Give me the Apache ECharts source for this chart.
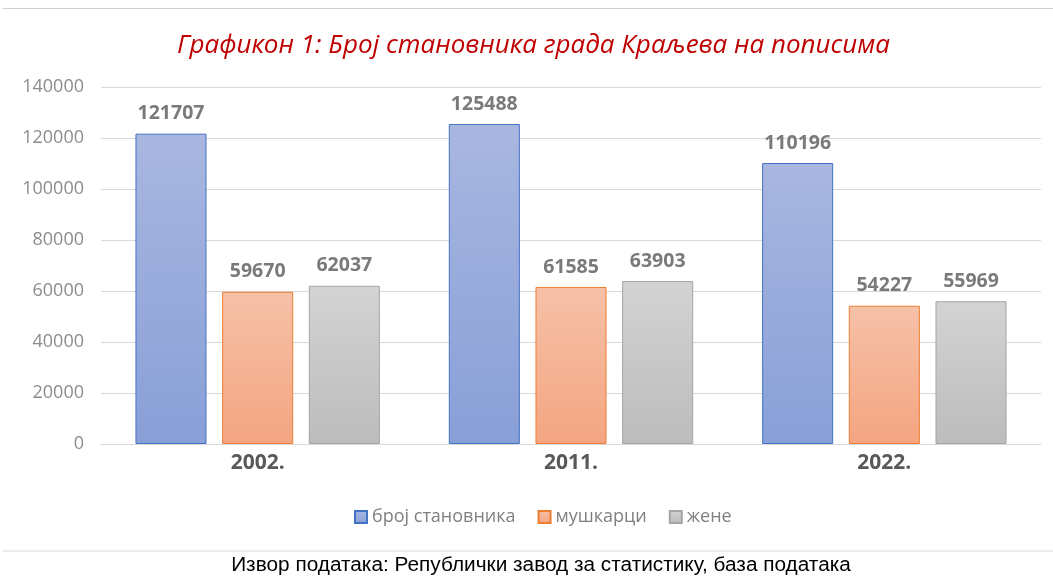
<!DOCTYPE html>
<html>
<head>
<meta charset="utf-8">
<script src="https://cdn.jsdelivr.net/npm/echarts@6/dist/echarts.min.js"></script>
<style>
  html, body { margin: 0; padding: 0; background: #fff; }
  #chart { width: 1053px; height: 578px; }
</style>
</head>
<body>
<div id="chart"></div>
<script>
const years = ['2002.', '2011.', '2022.'];
const seriesNames = ['број становника', 'мушкарци', 'жене'];
const total = [121707, 125488, 110196];
const men = [59670, 61585, 54227];
const women = [62037, 63903, 55969];
const yTicks = [0, 20000, 40000, 60000, 80000, 100000, 120000, 140000];

const grad = (top, bottom) => new echarts.graphic.LinearGradient(0, 0, 0, 1, [
  { offset: 0, color: top },
  { offset: 1, color: bottom }
]);

const label = {
  show: true,
  position: 'top',
  distance: 10,
  color: '#7a7a7a',
  fontSize: 19.5,
  fontWeight: 'bold',
  fontFamily: 'Open Sans'
};

const chart = echarts.init(document.getElementById('chart'));

chart.setOption({
  backgroundColor: '#fff',
  animation: false,
  title: {
    text: 'Графикон 1: Број становника града Краљева на пописима',
    left: 172,
    top: 28,
    textStyle: {
      color: '#c00000',
      fontSize: 26,
      fontStyle: 'italic',
      fontWeight: 'normal',
      fontFamily: 'Open Sans'
    }
  },
  legend: {
    bottom: 47,
    left: 349,
    itemWidth: 12,
    itemHeight: 12,
    itemGap: 22,
    icon: 'rect',
    textStyle: { color: '#808080', fontSize: 18, fontFamily: 'Open Sans' },
    data: seriesNames
  },
  grid: { left: 101, right: 12, top: 87, bottom: 134 },
  xAxis: {
    type: 'category',
    data: years,
    axisLine: { lineStyle: { color: '#d9d9d9' } },
    axisTick: { show: false },
    axisLabel: {
      color: '#595959',
      fontSize: 21,
      fontWeight: 'bold',
      fontFamily: 'Open Sans',
      margin: 9
    }
  },
  yAxis: {
    type: 'value',
    min: yTicks[0],
    max: yTicks[yTicks.length - 1],
    interval: 20000,
    axisLine: { show: false },
    axisTick: { show: false },
    splitLine: { lineStyle: { color: '#d9d9d9' } },
    axisLabel: {
      color: '#8c8c8c', fontSize: 18, fontFamily: 'Open Sans', margin: 17,
      formatter: v => String(v)
    }
  },
  series: [
    {
      name: seriesNames[0], type: 'bar', data: total,
      barGap: '22%', barCategoryGap: '22%',
      itemStyle: { color: grad('#a9b7e0', '#889fd7'), borderColor: '#4472c4', borderWidth: 1 },
      label
    },
    {
      name: seriesNames[1], type: 'bar', data: men,
      itemStyle: { color: grad('#f6c1a8', '#f4a581'), borderColor: '#ed7d31', borderWidth: 1 },
      label
    },
    {
      name: seriesNames[2], type: 'bar', data: women,
      itemStyle: { color: grad('#d3d3d3', '#bcbcbc'), borderColor: '#a5a5a5', borderWidth: 1 },
      label
    }
  ],
  graphic: [
    {
      type: 'line',
      shape: { x1: 3, y1: 8.5, x2: 1053, y2: 8.5 },
      style: { stroke: '#d0d0d0', lineWidth: 1 }
    },
    {
      type: 'line',
      shape: { x1: 3, y1: 551, x2: 1053, y2: 551 },
      style: { stroke: '#d9d9d9', lineWidth: 1 }
    },
    {
      type: 'text',
      x: 541,
      y: 565,
      scaleX: 1.04,
      style: {
        text: 'Извор података: Републички завод за статистику, база података',
        fill: '#000',
        fontSize: 20,
        fontFamily: 'Liberation Sans',
        align: 'center',
        verticalAlign: 'middle'
      }
    }
  ]
});
</script>
</body>
</html>
